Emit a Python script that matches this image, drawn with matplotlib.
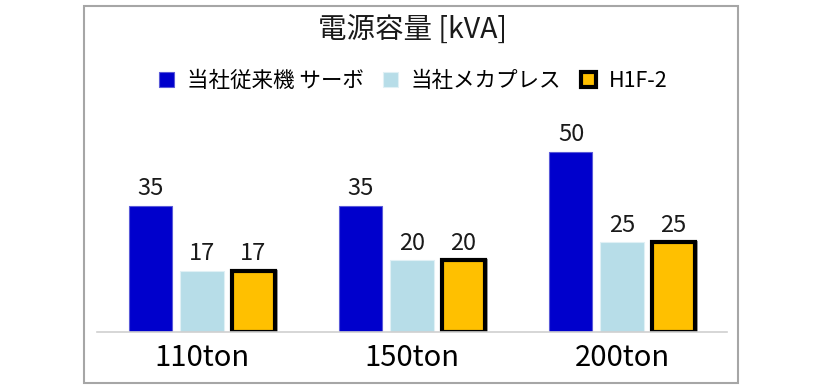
import numpy as np
import matplotlib
matplotlib.use('Agg')
import matplotlib.pyplot as plt
from matplotlib.patches import Rectangle

plt.rcParams['font.family'] = ['Noto Sans CJK JP', 'DejaVu Sans']

# データ
categories = ['110ton', '150ton', '200ton']
series_names = ['当社従来機 サーボ', '当社メカプレス', 'H1F-2']
conventional = [35, 35, 50]
mech_press = [17, 20, 25]
h1f2 = [17, 20, 25]

fig = plt.figure(figsize=(8.24, 3.89), dpi=100)
# 外枠
fig.patches.append(Rectangle((84 / 824, 6 / 389), 654 / 824, 377 / 389,
                             transform=fig.transFigure, fill=False,
                             edgecolor='#a6a6a6', linewidth=1.5))

ax = fig.add_axes([97 / 824, 57 / 389, 630 / 824, 200 / 389])
x = np.arange(len(categories))
w = 0.205
step = 0.243

b1 = ax.bar(x - step, conventional, w, color='#0000CC', edgecolor='#5a5ad8',
            linewidth=0.8, label=series_names[0])
b2 = ax.bar(x, mech_press, w, color='#B7DDE8', edgecolor='#e0f0f5',
            linewidth=0.8, label=series_names[1])
# 影
ax.bar(x + step + 0.004, h1f2, w, bottom=-0.25, color='#9a9a9a',
       edgecolor='#9a9a9a', linewidth=3.5, zorder=1)
b3 = ax.bar(x + step, h1f2, w, color='#FFC000', edgecolor='black',
            linewidth=3, label=series_names[2], zorder=2)

for bars in (b1, b2, b3):
    for r in bars:
        ax.text(r.get_x() + r.get_width() / 2, r.get_height() + 1.5,
                f'{r.get_height():g}', ha='center', va='bottom',
                fontsize=17, color='#1a1a1a')

ax.set_xlim(-0.5, 2.5)
ax.set_ylim(0, 55.5)
ax.set_xticks(x)
ax.set_xticklabels(categories, fontsize=21)
ax.tick_params(axis='x', length=0, pad=8)
ax.set_yticks([])
for s in ['top', 'right', 'left']:
    ax.spines[s].set_visible(False)
ax.spines['bottom'].set_color('#d0d0d0')
ax.spines['bottom'].set_linewidth(1.2)

fig.text(412 / 824, 1 - 30 / 389, '電源容量 [kVA]', ha='center', va='center',
         fontsize=20.5, color='#1a1a1a')

fig.legend(handles=[b1, b2, b3], labels=series_names, loc='center',
           bbox_to_anchor=(413 / 824, 1 - 81 / 389), ncol=3, frameon=False,
           fontsize=15.5, handlelength=0.7, handleheight=0.7,
           handletextpad=0.6, columnspacing=0.9)

fig.savefig('out.png', dpi=100)
